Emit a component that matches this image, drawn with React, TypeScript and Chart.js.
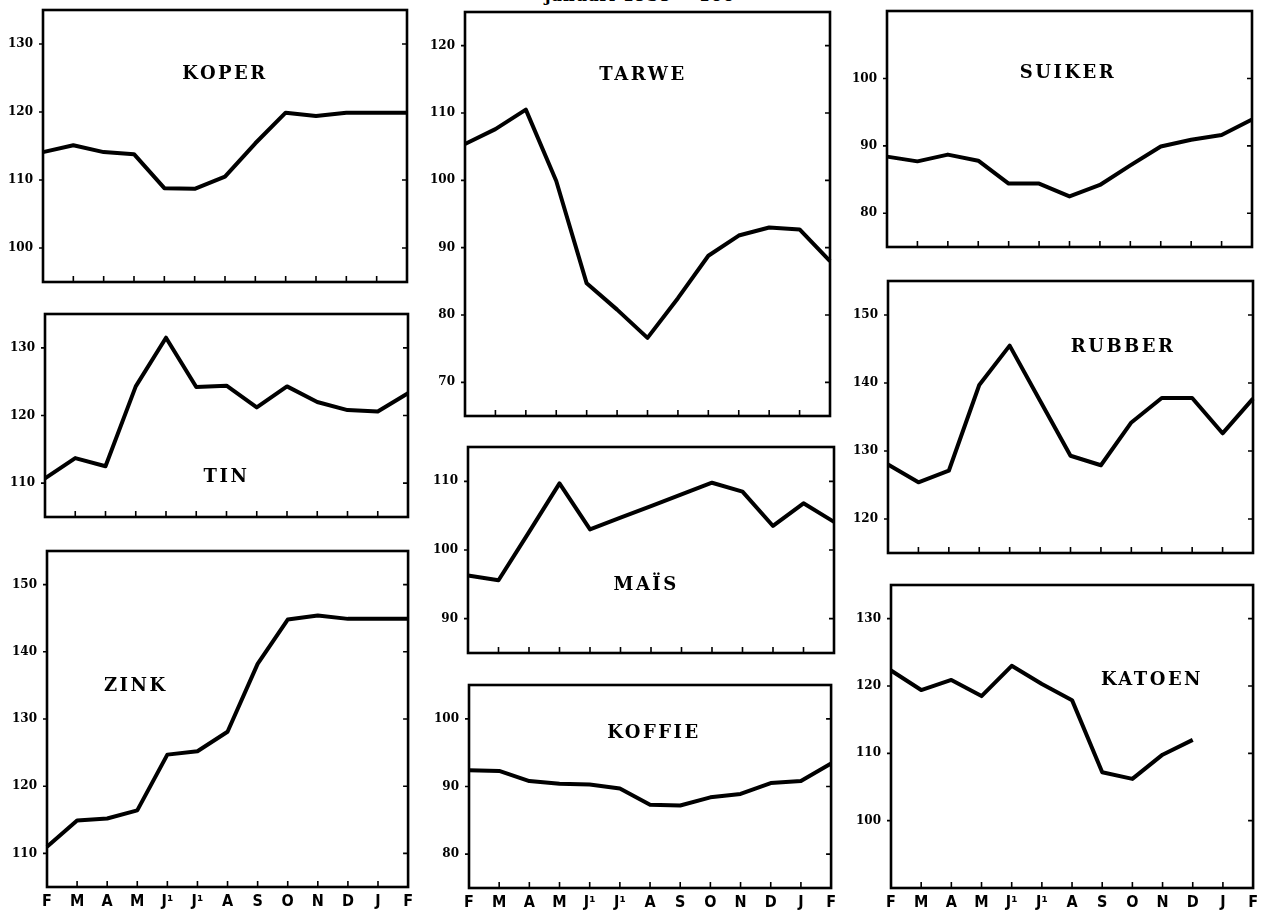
import React, { useEffect, useRef } from 'react';
import { Chart, registerables } from 'chart.js';

Chart.register(...registerables);

// ---- data ----
const months = ['F', 'M', 'A', 'M', 'J\u00B9', 'J\u00B9', 'A', 'S', 'O', 'N', 'D', 'J', 'F'];

const koper = [114.1, 115.1, 114.1, 113.8, 108.8, 108.7, 110.5, 115.4, 119.9, 119.4, 119.9, 119.9, 119.9];
const tin = [110.7, 113.7, 112.5, 124.3, 131.5, 124.2, 124.4, 121.2, 124.3, 122.0, 120.8, 120.6, 123.3];
const zink = [111.0, 114.9, 115.2, 116.4, 124.7, 125.2, 128.1, 138.2, 144.8, 145.4, 144.9, 144.9, 144.9];
const tarwe = [105.4, 107.6, 110.5, 99.9, 84.7, 80.8, 76.6, 82.5, 88.8, 91.8, 93.0, 92.7, 88.0];
const mais = [96.3, 95.6, 102.6, 109.7, 103.0, 104.7, 106.4, 108.1, 109.8, 108.5, 103.5, 106.8, 104.1];
const koffie = [92.4, 92.3, 90.8, 90.4, 90.3, 89.7, 87.3, 87.2, 88.4, 88.9, 90.5, 90.8, 93.4];
const suiker = [88.4, 87.7, 88.7, 87.8, 84.4, 84.4, 82.5, 84.2, 87.1, 89.9, 90.9, 91.6, 93.9];
const rubber = [128.0, 125.4, 127.1, 139.7, 145.5, 137.4, 129.3, 127.9, 134.2, 137.8, 137.8, 132.6, 137.7];
const katoen = [122.3, 119.4, 120.9, 118.5, 123.0, 120.3, 117.9, 107.2, 106.2, 109.8, 112.0, null, null];

const koperTicks = [100, 110, 120, 130];
const tinTicks = [110, 120, 130];
const zinkTicks = [110, 120, 130, 140, 150];
const tarweTicks = [70, 80, 90, 100, 110, 120];
const maisTicks = [90, 100, 110];
const koffieTicks = [80, 90, 100];
const suikerTicks = [80, 90, 100];
const rubberTicks = [120, 130, 140, 150];
const katoenTicks = [100, 110, 120, 130];

const titleText = 'januari 1938 = 100';

// ---- layout (positions kept apart from data) ----
type PanelDef = {
  name: string;
  data: (number | null)[];
  ticks: number[];
  min: number;
  max: number;
  rect: [number, number, number, number]; // left, top, right, bottom of plot area
  label: [number, number]; // label anchor (x index, y value)
  showX: boolean;
};

const panels: PanelDef[] = [
  { name: 'KOPER', data: koper, ticks: koperTicks, min: 95, max: 135, rect: [43, 10, 407, 282], label: [6.0, 125.6], showX: false },
  { name: 'TIN', data: tin, ticks: tinTicks, min: 105, max: 135, rect: [45, 314, 408, 517], label: [6.0, 110.9], showX: false },
  { name: 'ZINK', data: zink, ticks: zinkTicks, min: 105, max: 155, rect: [47, 551, 410, 887], label: [2.95, 134.8], showX: true },
  { name: 'TARWE', data: tarwe, ticks: tarweTicks, min: 65, max: 125, rect: [465, 12, 830, 416], label: [5.85, 115.6], showX: false },
  { name: 'MAÏS', data: mais, ticks: maisTicks, min: 85, max: 115, rect: [468, 447, 834, 653], label: [5.84, 94.8], showX: false },
  { name: 'KOFFIE', data: koffie, ticks: koffieTicks, min: 75, max: 105, rect: [469, 685, 833, 888], label: [6.13, 97.9], showX: true },
  { name: 'SUIKER', data: suiker, ticks: suikerTicks, min: 75, max: 110, rect: [887, 11, 1252, 247], label: [5.95, 100.7], showX: false },
  { name: 'RUBBER', data: rubber, ticks: rubberTicks, min: 115, max: 155, rect: [888, 281, 1253, 553], label: [7.73, 145.2], showX: false },
  { name: 'KATOEN', data: katoen, ticks: katoenTicks, min: 90, max: 135, rect: [891, 585, 1255, 888], label: [8.65, 120.9], showX: true },
];

const Y_W = 45;
const PAD_T = 10;
const PAD_R = 8;

const framePlugin = {
  id: 'frame',
  afterDraw(chart: any, _args: any, opts: any) {
    const { ctx, chartArea: a, scales } = chart;
    const x = scales.x;
    const y = scales.y;
    ctx.save();
    ctx.strokeStyle = '#000';
    ctx.lineWidth = 2.6;
    ctx.strokeRect(a.left, a.top, a.right - a.left, a.bottom - a.top);
    ctx.lineWidth = 1.6;
    ctx.beginPath();
    y.ticks.forEach((t: any) => {
      const py = y.getPixelForValue(t.value);
      ctx.moveTo(a.left - 4, py);
      ctx.lineTo(a.left, py);
      ctx.moveTo(a.right, py);
      ctx.lineTo(a.right - 5, py);
    });
    for (let i = 1; i < x.ticks.length - 1; i++) {
      const px = x.getPixelForTick(i);
      ctx.moveTo(px, a.bottom);
      ctx.lineTo(px, a.bottom - 6);
    }
    ctx.stroke();
    // panel label
    ctx.fillStyle = '#000';
    ctx.font = "bold 18px 'DejaVu Serif', serif";
    (ctx as any).letterSpacing = '2.5px';
    ctx.textAlign = 'center';
    ctx.textBaseline = 'middle';
    ctx.fillText(opts.text, x.getPixelForValue(opts.lx), y.getPixelForValue(opts.ly));
    ctx.restore();
  },
};

function Panel({ p }: { p: PanelDef }) {
  const ref = useRef<HTMLCanvasElement | null>(null);
  const [l, t, r, b] = p.rect;
  const xH = p.showX ? 26 : 10;
  const w = r - l + Y_W + PAD_R;
  const h = b - t + PAD_T + xH;

  useEffect(() => {
    if (!ref.current) return;
    const chart = new Chart(ref.current, {
      type: 'line',
      data: {
        labels: months,
        datasets: [
          {
            data: p.data,
            borderColor: '#000',
            borderWidth: 4,
            pointRadius: 0,
            tension: 0,
            fill: false,
            borderJoinStyle: 'round',
            borderCapStyle: 'butt',
            spanGaps: false,
          },
        ],
      },
      options: {
        animation: false,
        responsive: true,
        maintainAspectRatio: false,
        events: [],
        layout: { padding: { top: PAD_T, right: PAD_R, left: 0, bottom: 0 }, autoPadding: false },
        plugins: {
          legend: { display: false },
          tooltip: { enabled: false },
          title: { display: false },
          frame: { text: p.name, lx: p.label[0], ly: p.label[1] },
        } as any,
        scales: {
          x: {
            type: 'category',
            offset: false,
            grid: { display: false, drawTicks: false },
            border: { display: false },
            ticks: {
              display: p.showX,
              autoSkip: false,
              maxRotation: 0,
              padding: 5,
              color: '#000',
              font: { family: "'Liberation Sans Narrow', 'DejaVu Sans Condensed', sans-serif", size: 16, weight: 'bold' },
            },
            afterFit: (s: any) => {
              s.height = xH;
            },
          },
          y: {
            type: 'linear',
            min: p.min,
            max: p.max,
            grid: { display: false, drawTicks: true, tickLength: 10 },
            border: { display: false },
            ticks: {
              padding: 0,
              color: '#000',
              font: { family: "'DejaVu Serif', serif", size: 12, weight: 'bold' },
            },
            afterBuildTicks: (s: any) => {
              s.ticks = p.ticks.map((v) => ({ value: v }));
            },
            afterFit: (s: any) => {
              s.width = Y_W;
            },
          },
        },
      },
      plugins: [framePlugin],
    } as any);
    return () => chart.destroy();
  }, [p]);

  return (
    <div style={{ position: 'absolute', left: l - Y_W, top: t - PAD_T, width: w, height: h }}>
      <canvas ref={ref} />
    </div>
  );
}

export default function App() {
  return (
    <div style={{ position: 'absolute', left: 0, top: 0, width: 1262, height: 913, background: '#fff', overflow: 'hidden' }}>
      <div
        style={{
          position: 'absolute',
          left: 520,
          width: 240,
          top: -12,
          textAlign: 'center',
          font: "bold 16px 'DejaVu Serif', serif",
          lineHeight: '16px',
          letterSpacing: '1px',
          color: '#000',
        }}
      >
        {titleText}
      </div>
      {panels.map((p) => (
        <Panel key={p.name} p={p} />
      ))}
    </div>
  );
}
